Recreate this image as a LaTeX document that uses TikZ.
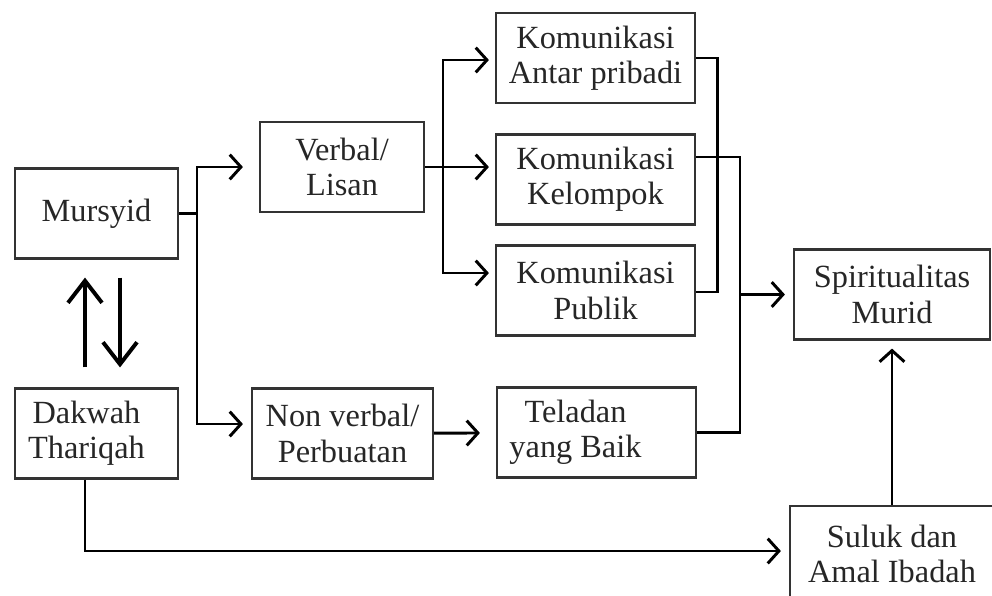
\documentclass[tikz,border=0pt]{standalone}
\usepackage{fontspec}
\setmainfont{Liberation Serif}
\usepackage{tikz}
\usetikzlibrary{arrows.meta,positioning,calc}
\tikzset
{
    box/.style      = {rectangle, draw=black!80, line width=1.5pt, align=center, inner sep=2pt, text=black!85, font=\fontsize{23}{25}\selectfont, minimum height=2.25cm},
    line/.style     = {line width=2.1pt},
    arrow/.style    = {line, ->, >={Straight Barb[length=0.28cm, width=0.62cm]}, shorten >=0.2cm},
    bigarrow/.style = {line width=2.8pt, ->, >={Straight Barb[length=0.55cm, width=0.85cm]}}
}

\begin{document}
\begin{tikzpicture}[x=0.025cm, y=-0.025cm]

   \newcommand\SMALLW{4.1cm}
   \newcommand\WIDEW{4.975cm}

   \useasboundingbox (0, 0) rectangle (992, 595);

   \node (mursyid)   [box, minimum width=4.075cm]  at (96.5, 213.5)  {Mursyid};
   \node (dakwah)    [box, minimum width=4.075cm]  at (96.5, 433.5)  {Dakwah\hspace*{0.5cm} \\ Thariqah\hspace*{0.5cm}};
   \node (verbal)    [box, minimum width=\SMALLW]  at (342, 167)     {Verbal/ \\ Lisan};
   \node (nonverbal) [box, minimum width=4.525cm]  at (342.5, 433.5) {Non verbal/ \\ Perbuatan};
   \node (antar)     [box, minimum width=\WIDEW]   at (595.5, 58)    {Komunikasi \\ Antar pribadi};
   \node (kelompok)  [box, minimum width=\WIDEW]   at (595.5, 179.5) {Komunikasi \\ Kelompok};
   \node (publik)    [box, minimum width=\WIDEW]   at (595.5, 290.5) {Komunikasi \\ Publik};
   \node (teladan)   [box, minimum width=\WIDEW]   at (596.5, 432.5) {Teladan\hspace*{1.05cm} \\ yang Baik\hspace*{1.05cm}};
   \node (spirit)    [box, minimum width=4.9cm]    at (892, 294.5)   {Spiritualitas \\ Murid};
   \node (suluk)     [box, minimum width=5.1cm, minimum height=2.4cm] at (892, 554) {Suluk dan \\ Amal Ibadah};

   % junctions
   \coordinate (mj) at (197, 213.5);
   \coordinate (vj) at (443, 167);
   \coordinate (sj) at (740, 294.5);

   % mursyid <-> dakwah
   \draw[bigarrow, shorten <=0.5cm, shorten >=0.45cm] ([shift={(-11.5, 0)}]dakwah.north) -- ([shift={(-11.5, 0)}]mursyid.south);
   \draw[bigarrow, shorten <=0.45cm, shorten >=0.5cm] ([shift={(23.5, 0)}]mursyid.south) -- ([shift={(23.5, 0)}]dakwah.north);

   \draw[line]  (mursyid.east) -- (mj);
   \draw[arrow, shorten >=0.4cm] (mj) |- (verbal.west);
   \draw[arrow] (mj) |- ([shift={(0, -9.5)}]nonverbal.west);

   \draw[line]  (verbal.east) -- (vj);
   \draw[arrow, shorten >=0.15cm] (vj) |- ([shift={(0, 2)}]antar.west);
   \draw[arrow, shorten >=0.15cm] (vj) -- (vj -| kelompok.west);
   \draw[arrow, shorten >=0.15cm] (vj) |- ([shift={(0, -17.5)}]publik.west);

   \draw[line]  (antar.east) -- ++(21, 0) |- ([shift={(0, 1.5)}]publik.east);
   \draw[line]  ([shift={(0, -22.5)}]kelompok.east) -| (sj);
   \draw[line]  (teladan.east) -| (sj);
   \draw[arrow] (sj) -- (spirit.west);

   \path
      (nonverbal) edge[arrow, shorten >=0.4cm] (teladan)
      (suluk)     edge[arrow]                  (spirit);

   \draw[arrow] ([shift={(-11.5, 0)}]dakwah.south) |- ([shift={(0, -3)}]suluk.west);

\end{tikzpicture}
\end{document}
